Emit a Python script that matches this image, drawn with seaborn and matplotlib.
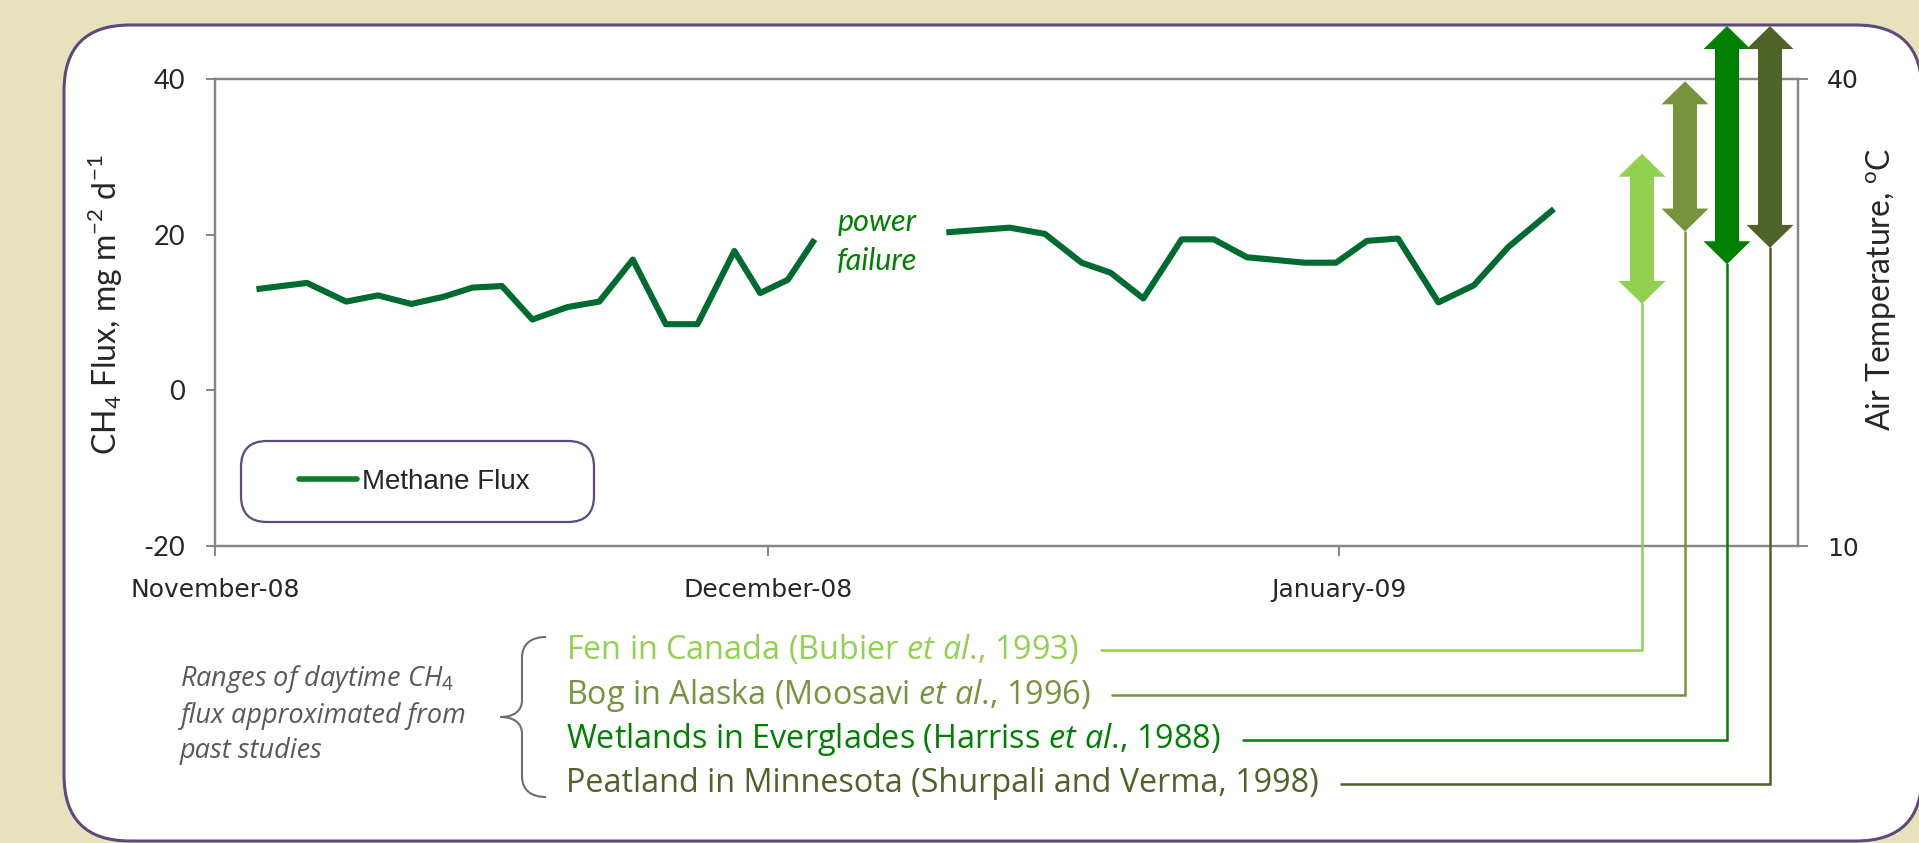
import numpy as np
import pandas as pd
import matplotlib
matplotlib.use("Agg")
import matplotlib.pyplot as plt
import seaborn as sns
from matplotlib.patches import FancyBboxPatch, Polygon, PathPatch
from matplotlib.path import Path
from matplotlib.lines import Line2D
from matplotlib.transforms import IdentityTransform

# ---------------- data ----------------
# days since 1 November 2008
day_offset = [2.25, 4.99, 7.12, 8.84, 10.65, 12.37, 13.97, 15.57, 17.22, 19.13,
              20.85, 22.67, 24.46, 26.18, 28.18, 29.58, 31.08, 32.54,
              39.68, 43.12, 45.03, 47.02, 48.60, 50.37, 52.45, 54.19, 55.99,
              59.12, 60.83, 62.50, 64.19, 66.38, 68.31, 70.17, 72.65]
methane_flux = [13.0, 13.8, 11.4, 12.2, 11.1, 12.0, 13.2, 13.4, 9.1, 10.7,
                11.4, 16.8, 8.5, 8.5, 17.9, 12.5, 14.2, 19.4,
                20.3, 20.9, 20.1, 16.4, 15.1, 11.8, 19.4, 19.4, 17.1,
                16.4, 16.4, 19.2, 19.5, 11.3, 13.5, 18.4, 23.3]
record_segment = [0] * 18 + [1] * 17   # split by the power failure

xtick_days = [0, 30, 61]
xtick_labels = ["November-08", "December-08", "January-09"]
flux_ticks = [-20, 0, 20, 40]
temp_ticks = [10, 40]

study_labels = [
    r"Fen in Canada (Bubier $\mathit{et\ al}$., 1993)",
    r"Bog in Alaska (Moosavi $\mathit{et\ al}$., 1996)",
    r"Wetlands in Everglades (Harriss $\mathit{et\ al}$., 1988)",
    "Peatland in Minnesota (Shurpali and Verma, 1998)",
]
study_flux_low = [11.1, 20.4, 16.2, 18.3]
study_flux_high = [30.4, 39.7, 46.8, 46.8]
study_colors = ["#92D050", "#77933C", "#008000", "#4F6228"]

# ---------------- style ----------------
W, H = 1919, 843
sns.set_style("white")
plt.rcParams["font.family"] = ["Lato", "DejaVu Sans"]
plt.rcParams["axes.unicode_minus"] = False
plt.rcParams["mathtext.fontset"] = "custom"
plt.rcParams["mathtext.rm"] = "Lato"
plt.rcParams["mathtext.it"] = "Open Sans:italic"
plt.rcParams["mathtext.bf"] = "Lato:bold"

GRAY = "#868686"
PURPLE = "#5F497A"

fig = plt.figure(figsize=(W / 100, H / 100), dpi=100, facecolor="#E6E2BE")

# rounded white panel
fig.add_artist(FancyBboxPatch((64, H - 841), 1922 - 64, 841 - 25,
                              boxstyle="round,pad=0,rounding_size=66",
                              transform=IdentityTransform(), facecolor="white",
                              edgecolor=PURPLE, linewidth=2.2, zorder=-10,
                              clip_on=False))

ax_l, ax_r, ax_t, ax_b = 215, 1798, 79, 546
ax = fig.add_axes([ax_l / W, (H - ax_b) / H, (ax_r - ax_l) / W, (ax_b - ax_t) / H])
ax.set_facecolor("white")
px_per_day = 18.43
ax.set_xlim(0, (ax_r - ax_l) / px_per_day)
ax.set_ylim(-20, 40)

df = pd.DataFrame({"day": day_offset, "flux": methane_flux, "segment": record_segment})
sns.lineplot(data=df, x="day", y="flux", units="segment", estimator=None,
             color="#006B30", linewidth=4.4, ax=ax, legend=False,
             solid_capstyle="butt", solid_joinstyle="round")

for s in ax.spines.values():
    s.set_color(GRAY)
    s.set_linewidth(1.6)
ax.set_xticks(xtick_days, xtick_labels)
ax.set_yticks(flux_ticks)
ax.tick_params(axis="y", left=True, direction="out", length=6.5, width=1.4,
               color=GRAY, pad=15, labelsize=19.5, labelfontfamily="Lato")
ax.tick_params(axis="x", bottom=True, direction="out", length=7, width=1.4,
               color=GRAY, pad=16, labelsize=18, labelfontfamily="DejaVu Sans")
ax.set_xlabel("")
ax.set_ylabel(r"CH$_{4}$ Flux, mg m$^{-2}$ d$^{-1}$", fontsize=23)
ax.yaxis.label.set_va("center")
ax.yaxis.set_label_coords((105.6 - ax_l) / (ax_r - ax_l), (ax_b - 305) / (ax_b - ax_t))

ax2 = ax.twinx()
ax2.set_ylim(10, 40)
ax2.set_yticks(temp_ticks)
for s in ax2.spines.values():
    s.set_color(GRAY)
    s.set_linewidth(1.6)
ax2.tick_params(axis="y", right=True, direction="out", length=7, width=1.4,
                color=GRAY, pad=14, labelsize=18, labelfontfamily="DejaVu Sans")
ax2.set_ylabel(r"Air Temperature, $^{\mathrm{o}}$C", fontsize=23)
ax2.yaxis.label.set_rotation(90)
ax2.yaxis.label.set_va("center")
ax2.yaxis.label.set_ha("center")
ax2.yaxis.set_label_coords((1882 - ax_l) / (ax_r - ax_l), (ax_b - 289) / (ax_b - ax_t))

# power failure note
ax.text(35.92, 19.12, "power\nfailure", style="italic", color="#008000",
        fontsize=22, ha="center", va="center", linespacing=1.45)

# legend
ax.add_artist(FancyBboxPatch((241, H - 522), 353, 81,
                             boxstyle="round,pad=0,rounding_size=26",
                             transform=IdentityTransform(), facecolor="white",
                             edgecolor=PURPLE, linewidth=1.6, zorder=4, clip_on=False))
handle = Line2D([], [], color="#0A7D2A", lw=4)
leg = ax.legend([handle], ["Methane Flux"], loc="center left",
                bbox_to_anchor=(299 / W, (H - 482) / H), bbox_transform=fig.transFigure,
                frameon=False, borderpad=0, borderaxespad=0, handlelength=2.1,
                handletextpad=0.18, prop={"family": "Liberation Sans", "size": 20})
leg.set_zorder(6)

# ranges from past studies: double arrows
arrow_px = [1642, 1685, 1727, 1770]
row_y = [650, 695, 740, 784]
shaft_w, head_w, head_len = 24, 47, 23
arrow_bottoms = []
for xpix, lo, hi, col in zip(arrow_px, study_flux_low, study_flux_high, study_colors):
    _, y0 = ax.transData.transform((0, lo))
    _, y1 = ax.transData.transform((0, hi))
    verts = [(xpix, y1), (xpix + head_w / 2, y1 - head_len), (xpix + shaft_w / 2, y1 - head_len),
             (xpix + shaft_w / 2, y0 + head_len), (xpix + head_w / 2, y0 + head_len), (xpix, y0),
             (xpix - head_w / 2, y0 + head_len), (xpix - shaft_w / 2, y0 + head_len),
             (xpix - shaft_w / 2, y1 - head_len), (xpix - head_w / 2, y1 - head_len)]
    fig.add_artist(Polygon(verts, closed=True, transform=IdentityTransform(),
                           facecolor=col, edgecolor="none", zorder=5, clip_on=False))
    arrow_bottoms.append(y0)

texts = []
for lab, col, y in zip(study_labels, study_colors, row_y):
    texts.append(fig.text(566 / W, 1 - y / H, lab, color=col, fontsize=23.3,
                          family="Open Sans", ha="left", va="center"))

# brace + description
brace = [(546, 637), (531, 637), (522, 644), (522, 658), (522, 700),
         (522, 711), (514, 717), (500, 717), (514, 717), (522, 723), (522, 734),
         (522, 776), (522, 790), (531, 797), (546, 797)]
codes = [Path.MOVETO, Path.CURVE4, Path.CURVE4, Path.CURVE4, Path.LINETO,
         Path.CURVE4, Path.CURVE4, Path.CURVE4, Path.CURVE4, Path.CURVE4, Path.CURVE4,
         Path.LINETO, Path.CURVE4, Path.CURVE4, Path.CURVE4]
fig.add_artist(PathPatch(Path([(x, H - y) for x, y in brace], codes),
                         transform=IdentityTransform(), facecolor="none",
                         edgecolor="#6E6E6E", linewidth=1.5, clip_on=False))
fig.text(180 / W, 1 - 714 / H,
         "Ranges of daytime CH$_{\\mathit{4}}$\nflux approximated from\npast studies",
         style="italic", family="Open Sans", color="#595959", fontsize=19.5,
         ha="left", va="center", linespacing=1.32)

fig.canvas.draw()
renderer = fig.canvas.get_renderer()
for t, xpix, yb, col, y in zip(texts, arrow_px, arrow_bottoms, study_colors, row_y):
    bb = t.get_window_extent(renderer)
    yy = H - y
    fig.add_artist(Line2D([bb.x1 + 22, xpix, xpix], [yy, yy, yb],
                          transform=IdentityTransform(), color=col, lw=1.8,
                          solid_joinstyle="miter", zorder=4, clip_on=False))

fig.savefig("out.png", dpi=100, facecolor=fig.get_facecolor())
